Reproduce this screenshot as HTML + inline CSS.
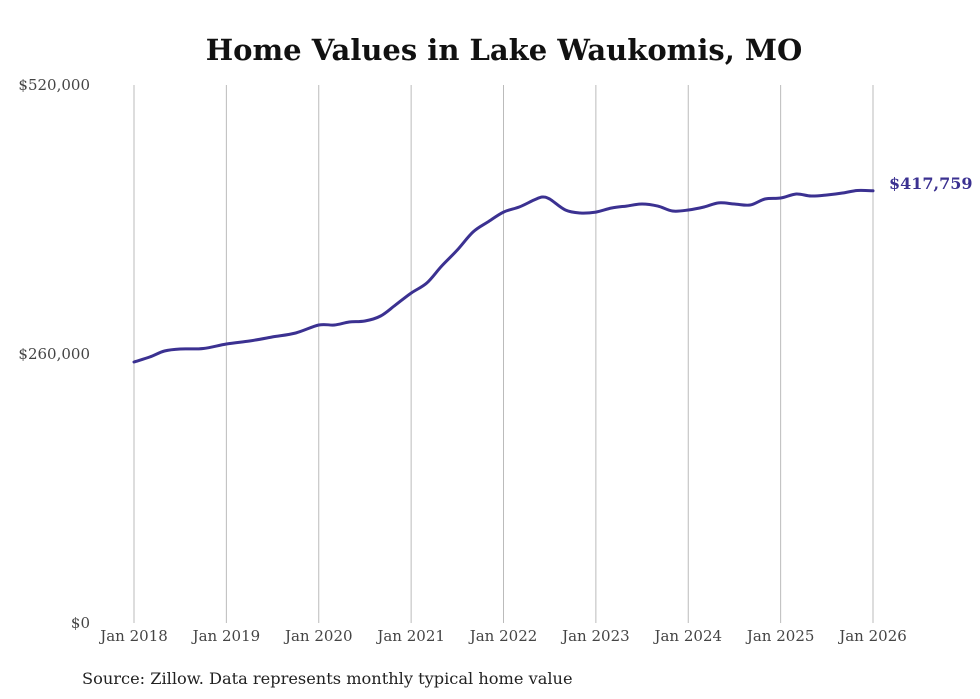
<!DOCTYPE html>
<html><head><meta charset="utf-8"><style>
body{margin:0;background:#fff;}
svg{display:block;font-family:"DejaVu Serif","Liberation Serif",serif;}
</style></head><body>
<svg id="chart" width="980" height="699">
<text x="504" y="60" text-anchor="middle" font-size="29" font-weight="bold" fill="#111">Home Values in Lake Waukomis, MO</text>
<g id="grid"></g><g id="yaxis"></g><g id="xaxis"></g><g id="series"></g>
<text x="82" y="684" font-size="16.2" fill="#222">Source: Zillow. Data represents monthly typical home value</text>
</svg>
<script>
const dates=[2018,2018.17,2018.33,2018.5,2018.75,2019,2019.25,2019.5,2019.75,2020,2020.17,2020.33,2020.5,2020.67,2020.83,2021,2021.17,2021.33,2021.5,2021.67,2021.83,2022,2022.17,2022.33,2022.42,2022.5,2022.67,2022.83,2023,2023.17,2023.33,2023.5,2023.67,2023.83,2024,2024.17,2024.33,2024.5,2024.67,2024.83,2025,2025.17,2025.33,2025.5,2025.67,2025.83,2026];
const values=[252300,257100,262900,264800,265300,269700,272600,276500,280300,288000,288000,290900,291900,296700,307300,318900,328600,345000,360500,377900,387600,397200,402100,408800,411700,409800,399200,396300,397200,401100,403000,405000,403000,398200,399200,402100,406000,405000,404000,409800,410800,414600,412700,413700,415600,418000,417759];
const yTicks=[0,260000,520000];
const yTickLabels=["$0","$260,000","$520,000"];
const xTicks=[2018,2019,2020,2021,2022,2023,2024,2025,2026];
const xTickLabels=["Jan 2018","Jan 2019","Jan 2020","Jan 2021","Jan 2022","Jan 2023","Jan 2024","Jan 2025","Jan 2026"];
const lastLabel="$417,759";
const NS="http://www.w3.org/2000/svg";
const x=d=>134+(d-2018)*(873-134)/8;
const y=v=>623-v*538/520000;
function mk(tag,attrs,parent){const e=document.createElementNS(NS,tag);for(const k in attrs)e.setAttribute(k,attrs[k]);document.getElementById(parent).appendChild(e);return e;}
xTicks.forEach((t,i)=>{
  const l=mk('line',{x1:x(t),x2:x(t),y1:85,y2:623,stroke:'#bbb','stroke-width':1},'grid');
  
  
  const tx=mk('text',{x:x(t),y:641,'text-anchor':'middle','font-size':15,fill:'#444'},'xaxis');
  tx.textContent=xTickLabels[i];
  
  
});
yTicks.forEach((t,i)=>{
  const tx=mk('text',{x:90,y:y(t)+5,'text-anchor':'end','font-size':15,fill:'#444'},'yaxis');
  tx.textContent=yTickLabels[i];
  
  
});
const P=dates.map((d,i)=>[x(d),y(values[i])]);
let dstr='M'+P[0][0].toFixed(1)+','+P[0][1].toFixed(1);
for(let i=0;i<P.length-1;i++){
  const p0=P[Math.max(0,i-1)],p1=P[i],p2=P[i+1],p3=P[Math.min(P.length-1,i+2)];
  const c1=[p1[0]+(p2[0]-p0[0])/6,p1[1]+(p2[1]-p0[1])/6];
  const c2=[p2[0]-(p3[0]-p1[0])/6,p2[1]-(p3[1]-p1[1])/6];
  dstr+=' C'+c1.map(v=>v.toFixed(1)).join(',')+' '+c2.map(v=>v.toFixed(1)).join(',')+' '+p2.map(v=>v.toFixed(1)).join(',');
}
const pl=mk('path',{d:dstr,fill:'none',stroke:'#3b3191','stroke-width':3,'stroke-linejoin':'round','stroke-linecap':'round'},'series');


const n=values.length-1;
const lb=mk('text',{x:x(dates[n])+16,y:y(values[n])-2,'font-size':16,'font-weight':'bold',fill:'#3b3191'},'series');
lb.textContent=lastLabel;


</script>
</body></html>
